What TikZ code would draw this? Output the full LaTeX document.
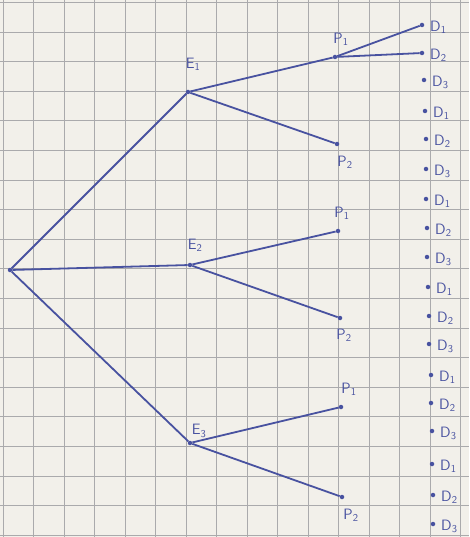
\documentclass[tikz,border=0pt]{standalone}
\usepackage{xcolor}
\usepackage{tikz}
\usetikzlibrary{positioning,backgrounds}

\definecolor{ink}{RGB}{72,82,160}
\definecolor{paper}{RGB}{242,240,234}
\definecolor{gridgray}{RGB}{170,170,172}

\begin{document}
\begin{tikzpicture}[
  x=1pt, y=-1pt,
  pt/.style={circle, fill=ink, inner sep=0pt, minimum size=4.5pt},
  lbl/.style={font=\fontsize{15}{17}\selectfont\sffamily, text=ink, inner sep=1pt},
  branch/.style={ink, line width=1.8pt},
  gline/.style={gridgray, line width=0.9pt}
]
\useasboundingbox (0,0) rectangle (469,537);
\fill[paper] (0,0) rectangle (469,537);

% squared paper
\foreach \k in {0,...,15} \draw[gline] (3+30.5*\k,0) -- (3+30.5*\k,537);
\foreach \k in {0,...,18} \draw[gline] (0,2.5+29.6*\k) -- (469,2.5+29.6*\k);

% root and first level
\node[pt] (root) at (10,270) {};
\node[pt] (e1) at (188,92) {};
\node[pt] (e2) at (190,265) {};
\node[pt] (e3) at (190,443) {};
\node[lbl, above=18pt of e1, xshift=5pt] (le1) {E\textsubscript{1}};
\node[lbl, above=10pt of e2, xshift=5pt] (le2) {E\textsubscript{2}};
\node[lbl, above=2pt of e3, xshift=9pt] (le3) {E\textsubscript{3}};

% second level
\node[pt] (p1a) at (335,57) {};
\node[pt] (p2a) at (337,144) {};
\node[pt] (p1b) at (338,231) {};
\node[pt] (p2b) at (340,318) {};
\node[pt] (p1c) at (341,407) {};
\node[pt] (p2c) at (342,497) {};
\node[lbl, above=8pt of p1a, xshift=6pt] (lp1a) {P\textsubscript{1}};
\node[lbl, below=8pt of p2a, xshift=8pt] (lp2a) {P\textsubscript{2}};
\node[lbl, above=8pt of p1b, xshift=4pt] (lp1b) {P\textsubscript{1}};
\node[lbl, below=7pt of p2b, xshift=4pt] (lp2b) {P\textsubscript{2}};
\node[lbl, above=8pt of p1c, xshift=8pt] (lp1c) {P\textsubscript{1}};
\node[lbl, below=8pt of p2c, xshift=9pt] (lp2c) {P\textsubscript{2}};

% third level
\foreach \i/\x/\y/\s in {1/422/25/1, 2/422/53/2, 3/424/80/3, 4/425/111/1,
    5/426/139/2, 6/426/169/3, 7/426/199/1, 8/427/228/2, 9/427/257/3,
    10/428/287/1, 11/429/316/2, 12/429/344/3, 13/431/375/1, 14/431/403/2,
    15/432/431/3, 16/432/464/1, 17/433/495/2, 18/433/524/3} {
  \node[pt] (d\i) at (\x,\y) {};
  \node[lbl, anchor=west, xshift=7pt, yshift=-2pt] (ld\i) at (d\i) {D\textsubscript{\s}};
}

\draw[branch] (root) -- (e1);
\draw[branch] (root) -- (e2);
\draw[branch] (root) -- (e3);
\draw[branch] (e1) -- (p1a);
\draw[branch] (e1) -- (p2a);
\draw[branch] (e2) -- (p1b);
\draw[branch] (e2) -- (p2b);
\draw[branch] (e3) -- (p1c);
\draw[branch] (e3) -- (p2c);
\draw[branch] (p1a) -- (d1);
\draw[branch] (p1a) -- (d2);
\end{tikzpicture}
\end{document}
